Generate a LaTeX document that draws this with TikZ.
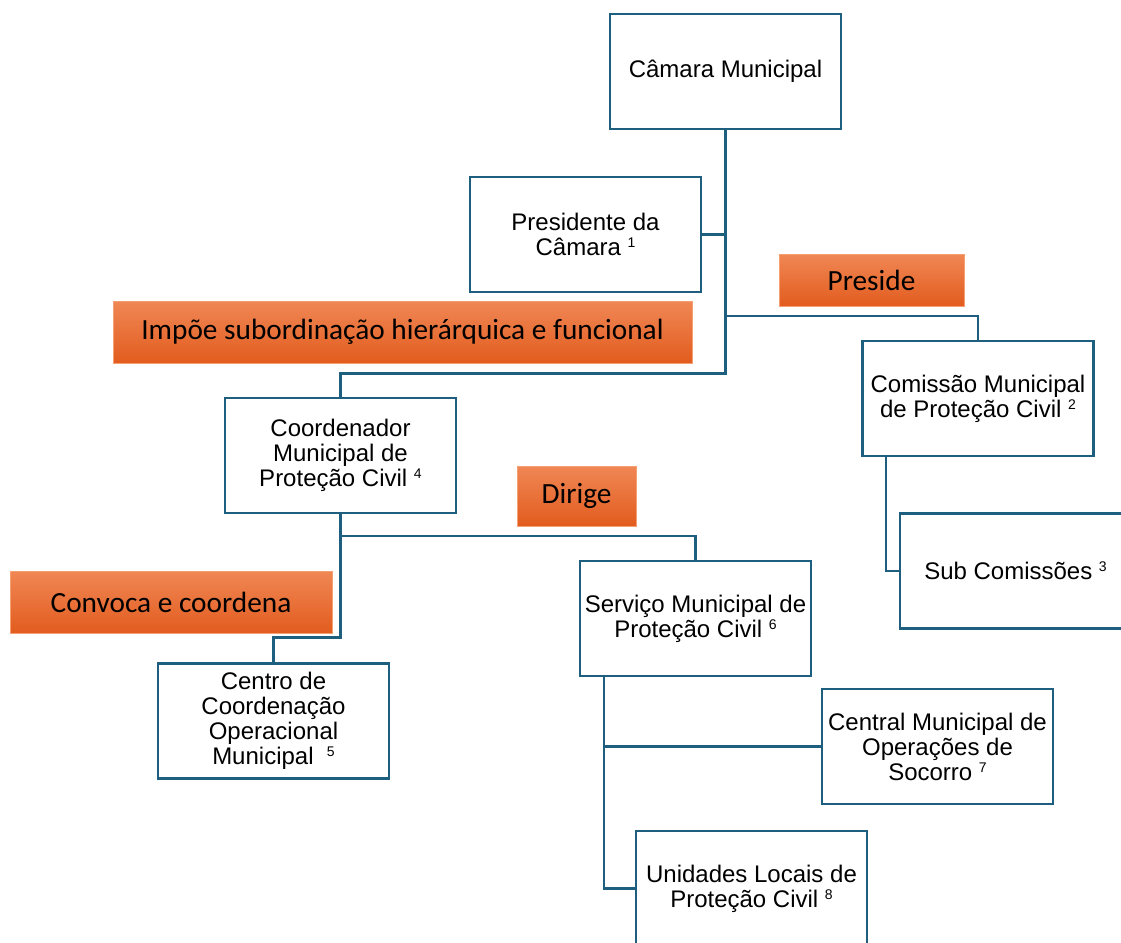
\documentclass[tikz,border=0pt]{standalone}
\usepackage{fontspec}
\setmainfont{Liberation Sans}
\newfontfamily\calib{Carlito}
\definecolor{linecol}{RGB}{30,95,128}
\definecolor{ortop}{RGB}{240,135,85}
\definecolor{orbot}{RGB}{226,92,30}
\definecolor{orline}{RGB}{244,160,115}
\newcommand{\sps}[1]{\raisebox{8pt}{\fontsize{14pt}{14pt}\selectfont #1}}
\begin{document}
\begin{tikzpicture}[x=1pt,y=-1pt,
  box/.style={draw=linecol,line width=2.5pt,fill=white,minimum width=231pt,minimum height=115pt,
    align=center,inner sep=2pt,font=\fontsize{24pt}{25pt}\selectfont},
  tag/.style={draw=orline,line width=1pt,top color=ortop,bottom color=orbot,
    inner sep=0pt,font=\calib\fontsize{29.3pt}{30pt}\selectfont,text=black},
  conn/.style={draw=linecol,line width=2.5pt}]
\useasboundingbox (0,0) rectangle (1121,942);
\fill[white] (0,0) rectangle (1121,942);
\clip (0,0) rectangle (1121,942);

\node[box] (cam) at (725.5,71.5) {Câmara Municipal};
\node[box] (pres) at (585.5,234.5) {Presidente da\\Câmara \sps{1}};
\node[box] (com) at (978,398.5) {Comissão Municipal\\de Proteção Civil \sps{2}};
\node[box] (coord) at (340.5,455.5) {Coordenador\\Municipal de\\Proteção Civil \sps{4}};
\node[box] (sub) at (1015.5,571) {Sub Comissões \sps{3}};
\node[box] (serv) at (695.5,618.5) {Serviço Municipal de\\Proteção Civil \sps{6}};
\node[box] (centro) at (273.5,721) {Centro de\\Coordenação\\Operacional\\Municipal \ \sps{5}};
\node[box] (central) at (937.5,746.5) {Central Municipal de\\Operações de\\Socorro \sps{7}};
\node[box] (unid) at (751.5,888.5) {Unidades Locais de\\Proteção Civil \sps{8}};

\coordinate (j1) at (725.5,316);
\coordinate (j2) at (340.5,536);
\draw[conn] (cam.south) -- ++(0,243) -| (coord.north);
\draw[conn] (pres.east) -- (pres.east -| cam.south);
\draw[conn] (j1) -| (com.north);
\draw[conn] ([xshift=-92pt]com.south) |- (sub.west);
\draw[conn] (coord.south) -- ++(0,123) -| (centro.north);
\draw[conn] (j2) -| (serv.north);
\draw[conn] ([xshift=-91.5pt]serv.south) |- (unid.west);
\draw[conn] ([xshift=-91.5pt]serv.south |- central.west) -- (central.west);

\node[tag,minimum width=185pt,minimum height=52pt] (t1) at (871.5,280) {Preside};
\node[tag,minimum width=579pt,minimum height=62pt] (t2) at (402.5,332) {Impõe subordinação hierárquica e funcional};
\node[tag,minimum width=119pt,minimum height=60pt] (t3) at (576.5,496) {Dirige};
\node[tag,minimum width=322pt,minimum height=62pt] (t4) at (171,602) {Convoca e coordena};
\end{tikzpicture}
\end{document}
